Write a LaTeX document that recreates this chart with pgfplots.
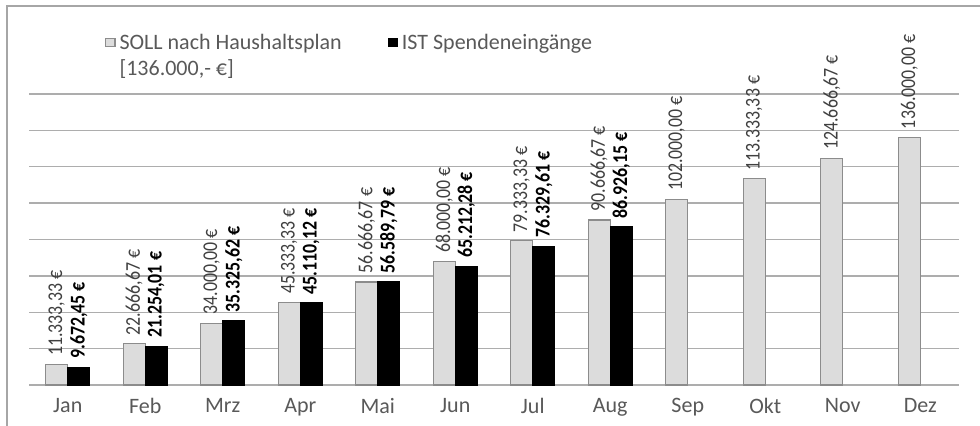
\documentclass[border=0pt]{standalone}
\usepackage{pgfplots}
\pgfplotsset{compat=1.18}
\usepackage{fontspec}
\setmainfont{Carlito}
\newfontfamily\lblfont[FakeStretch=0.85]{Carlito}
\definecolor{sollfill}{HTML}{DCDCDC}
\definecolor{solledge}{HTML}{8C8C8C}
\definecolor{gridc}{HTML}{ADADAD}
\definecolor{txt}{HTML}{595959}
\definecolor{lbl}{HTML}{404040}
\begin{document}
\begin{tikzpicture}
\useasboundingbox (0,0) rectangle (490pt,213pt);
\fill[white] (0,0) rectangle (490pt,213pt);
\draw[gray!70, line width=1pt] (3.5pt,-2pt) -- (3.5pt,210pt) -- (495pt,210pt);
\begin{axis}[
  at={(14.5pt,20.5pt)}, anchor=south west,
  scale only axis, width=465pt, height=145.5pt,
  xmin=-0.5, xmax=11.5, ymin=0, ymax=160000,
  clip=false,
  axis line style={draw=none},
  scaled y ticks=false,
  ytick={0,20000,...,160000}, yticklabels={}, ytick style={draw=none},
  ymajorgrids, grid style={gridc, line width=0.7pt},
  xtick={0,...,11},
  xticklabels={Jan,Feb,Mrz,Apr,Mai,Jun,Jul,Aug,Sep,Okt,Nov,Dez},
  xtick style={draw=none},
  xticklabel style={font=\fontsize{11}{13}\selectfont, text=txt, yshift=-3pt},
  extra x ticks={-0.5,0.5,...,11.5},
  extra x tick labels={},
  extra x tick style={xmajorgrids=false, tick align=outside, major tick length=3pt,
    tick style={draw=gridc, line width=0.7pt}},
  bar width=11pt,
  point meta=explicit symbolic,
  every node near coord/.style={rotate=90, anchor=west, inner xsep=4pt, inner ysep=1pt,
    font=\lblfont\fontsize{10.5}{12}\selectfont},
  legend style={at={(rel axis cs:0.075,1.235)}, anchor=north west, draw=none, fill=none,
    font=\fontsize{11}{13}\selectfont, text=txt, legend columns=2,
    /tikz/every even column/.append style={column sep=18pt},
    cells={anchor=base west}},
  legend image code/.code={\draw[#1] (0pt,1.3pt) rectangle (4.6pt,5.5pt);},
]
\addplot[ybar, bar shift=0pt, fill=sollfill, draw=solledge, line width=0.6pt,
  nodes near coords={\textcolor{lbl}{\pgfplotspointmeta}}]
coordinates {
(-0.142,11333.33) [11.333,33 €]
(0.858,22666.67) [22.666,67 €]
(1.858,34000) [34.000,00 €]
(2.858,45333.33) [45.333,33 €]
(3.858,56666.67) [56.666,67 €]
(4.858,68000) [68.000,00 €]
(5.858,79333.33) [79.333,33 €]
(6.858,90666.67) [90.666,67 €]
(7.858,102000) [102.000,00 €]
(8.858,113333.33) [113.333,33 €]
(9.858,124666.67) [124.666,67 €]
(10.858,136000) [136.000,00 €]
};
\addlegendentry{\parbox[t]{114pt}{SOLL nach Haushaltsplan\newline[136.000,- €]}}
\addplot[ybar, bar shift=0pt, fill=black, draw=black, line width=0.6pt,
  nodes near coords={\textbf{\pgfplotspointmeta}}]
coordinates {
(0.142,9672.45) [9.672,45 €]
(1.142,21254.01) [21.254,01 €]
(2.142,35325.62) [35.325,62 €]
(3.142,45110.12) [45.110,12 €]
(4.142,56589.79) [56.589,79 €]
(5.142,65212.28) [65.212,28 €]
(6.142,76329.61) [76.329,61 €]
(7.142,86926.15) [86.926,15 €]
};
\addlegendentry{IST Spendeneingänge}
\end{axis}
\end{tikzpicture}
\end{document}
